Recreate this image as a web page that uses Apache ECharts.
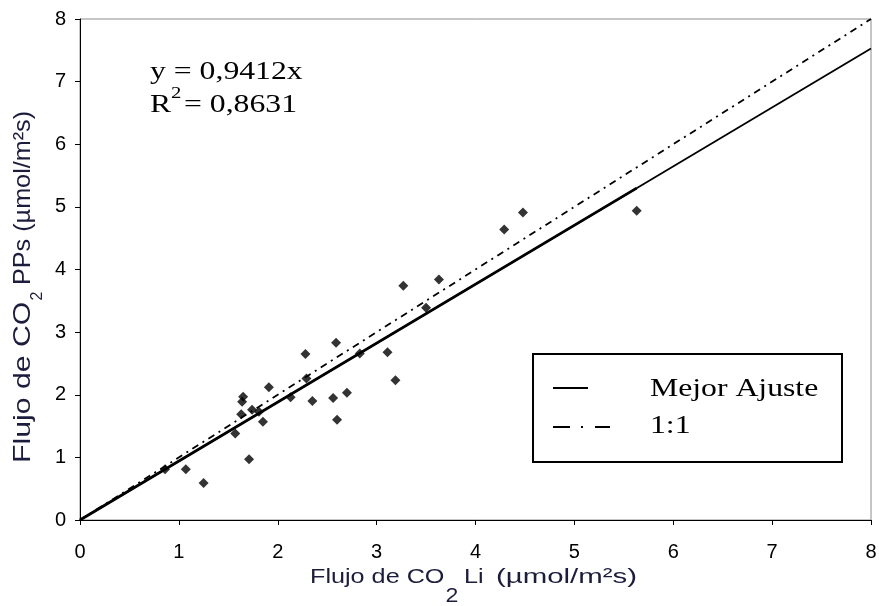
<!DOCTYPE html>
<html>
<head>
<meta charset="utf-8">
<script src="https://cdn.jsdelivr.net/npm/echarts@6/dist/echarts.min.js"></script>
<style>
  html, body { margin: 0; padding: 0; background: #fff; }
  #chart { width: 879px; height: 606px; }
</style>
</head>
<body>
<div id="chart"></div>
<script>
// CO2 flux measured with the LI chamber (x) vs. the PPs chamber (y), µmol/m²s
const liFlux  = [0.86, 1.07, 1.25, 1.57, 1.63, 1.64, 1.65, 1.71, 1.74, 1.81, 1.85, 1.91, 2.13, 2.28, 2.29,
                 2.35, 2.56, 2.59, 2.60, 2.70, 2.83, 3.11, 3.19, 3.27, 3.50, 3.63, 4.29, 4.48, 5.63];
const ppsFlux = [0.81, 0.81, 0.59, 1.38, 1.69, 1.89, 1.97, 0.97, 1.76, 1.73, 1.57, 2.12, 1.96, 2.65, 2.26,
                 1.90, 1.95, 2.83, 1.60, 2.03, 2.66, 2.68, 2.23, 3.74, 3.39, 3.84, 4.64, 4.91, 4.94];

const axisTicks = [0, 1, 2, 3, 4, 5, 6, 7, 8];
const fitSlope = 0.9412;          // regression through the origin
const fitLabel = 'y = 0,9412x';
const r2Label  = '= 0,8631';
const legendNames = ['Mejor Ajuste', '1:1'];

const axisMin = axisTicks[0];
const axisMax = axisTicks[axisTicks.length - 1];
const dataMaxX = Math.max(...liFlux);

const points = liFlux.map((x, i) => [x, ppsFlux[i]]);

const serif = "'Liberation Serif', 'Times New Roman', serif";
const sans  = "'Liberation Sans', Arial, sans-serif";
const nameColor = '#1c1c3c';

const chart = echarts.init(document.getElementById('chart'), null, { renderer: 'canvas' });

const axisCommon = {
  type: 'value',
  min: axisMin,
  max: axisMax,
  interval: 1,
  splitLine: { show: false },
  axisLine: { show: true, onZero: false, lineStyle: { color: '#000', width: 1 } },
  axisTick: { show: true, inside: false, length: 5, lineStyle: { color: '#000', width: 1 } }
};

// plain text helper for the free-standing labels
function label(text, x, y, font, opts, color) {
  return Object.assign({
    type: 'text', x: x, y: y, silent: true,
    style: { text: text, font: font, fill: color || '#000', textVerticalAlign: 'middle' }
  }, opts || {});
}

const serif26 = '26px ' + serif;
const sans21 = '21px ' + sans;
const sans24 = '24px ' + sans;
const up = Math.PI / 2;

chart.setOption({
  animation: false,
  backgroundColor: '#fff',
  grid: {
    left: 80, top: 19, right: 8, bottom: 86,
    show: true, borderColor: '#8c8c8c', borderWidth: 1,
    containLabel: false, outerBoundsMode: 'none'
  },
  xAxis: Object.assign({}, axisCommon, {
    axisLabel: { color: '#000', fontSize: 20, fontFamily: sans, margin: 22 }
  }),
  yAxis: Object.assign({}, axisCommon, {
    axisLabel: { color: '#000', fontSize: 20, fontFamily: sans, margin: 14 }
  }),
  series: [
    { // best-fit line over the full axis range
      type: 'line', silent: true, symbol: 'none',
      data: [[axisMin, axisMin * fitSlope], [axisMax, axisMax * fitSlope]],
      lineStyle: { color: '#000', width: 1.8 }, z: 2
    },
    { // best-fit line over the measured range
      type: 'line', silent: true, symbol: 'none',
      data: [[axisMin, axisMin * fitSlope], [dataMaxX, dataMaxX * fitSlope]],
      lineStyle: { color: '#000', width: 2.8 }, z: 3
    },
    { // 1:1 reference line
      type: 'line', silent: true, symbol: 'none',
      data: [[axisMin, axisMin], [axisMax, axisMax]],
      lineStyle: { color: '#000', width: 1.8, type: [7, 5, 2, 5] }, z: 2
    },
    {
      type: 'scatter', silent: true,
      symbol: 'diamond', symbolSize: 10,
      itemStyle: { color: '#000' },
      data: points, z: 4
    }
  ],
  graphic: [
    // regression equation
    label(fitLabel, 150, 72, serif26, { scaleX: 1.22 }),
    label('R', 150, 105.5, serif26, { scaleX: 1.22 }),
    label('2', 171, 93.5, '17px ' + serif, { scaleX: 1.22 }),
    label(r2Label, 184, 105.5, serif26, { scaleX: 1.22 }),

    // legend box
    { type: 'rect', silent: true, z: 10,
      shape: { x: 533, y: 354, width: 309, height: 108 },
      style: { fill: '#fff', stroke: '#000', lineWidth: 2 } },
    { type: 'line', silent: true, z: 11,
      shape: { x1: 553, y1: 388, x2: 588, y2: 388 },
      style: { stroke: '#000', lineWidth: 2 } },
    { type: 'line', silent: true, z: 11,
      shape: { x1: 553, y1: 427, x2: 610, y2: 427 },
      style: { stroke: '#000', lineWidth: 2, lineDash: [17, 11, 2, 12] } },
    label(legendNames[0], 650, 389, serif26, { scaleX: 1.22, z: 11 }),
    label(legendNames[1], 650, 426, serif26, { scaleX: 1.22, z: 11 }),

    // x axis title: Flujo de CO2 Li (µmol/m²s)
    label('Flujo de CO', 310, 577.5, sans21, { scaleX: 1.2 }, nameColor),
    label('2', 445.5, 596, sans21, { scaleX: 1.1 }, nameColor),
    label('Li', 464, 577.5, sans21, { scaleX: 1.2 }, nameColor),
    label('(µmol/m²s)', 496, 577.5, sans21, { scaleX: 1.4 }, nameColor),

    // y axis title: Flujo de CO2 PPs (µmol/m²s), reading upwards
    label('Flujo de CO', 23, 463, sans24, { rotation: up, scaleX: 1.26 }, nameColor),
    label('2', 38, 300.5, '16px ' + sans, { rotation: up }, nameColor),
    label('PPs (µmol/m²s)', 23, 285, sans24, { rotation: up, scaleX: 1.05 }, nameColor)
  ]
});
</script>
</body>
</html>
